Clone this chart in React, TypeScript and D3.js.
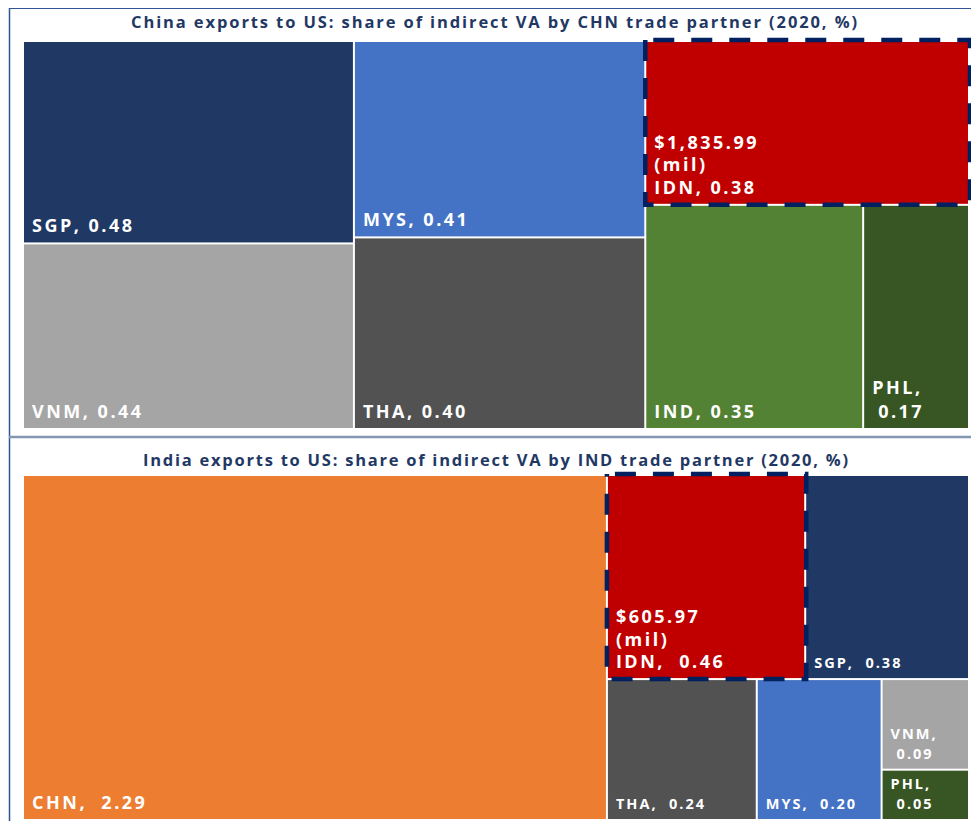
import React from 'react';
import * as d3 from 'd3';

const chnTitle = 'China exports to US: share of indirect VA by CHN trade partner (2020, %)';
const indTitle = 'India exports to US: share of indirect VA by IND trade partner (2020, %)';

const chnPartners = ['SGP', 'VNM', 'MYS', 'THA', 'IDN', 'IND', 'PHL'];
const chnShares = [0.48, 0.44, 0.41, 0.40, 0.38, 0.35, 0.17];
const indPartners = ['CHN', 'IDN', 'SGP', 'THA', 'MYS', 'VNM', 'PHL'];
const indShares = [2.29, 0.46, 0.38, 0.24, 0.20, 0.09, 0.05];

// Nested arrangement of the tiles (alternating column / row split)
const chnGroups: any[] = [['SGP', 'VNM'], ['MYS', 'THA'], ['IDN', ['IND', 'PHL']]];
const indGroups: any[] = ['CHN', [['IDN', 'SGP'], ['THA', 'MYS', ['VNM', 'PHL']]]];

const highlightCode = 'IDN';
const chnIdnValue = '$1,835.99';
const indIdnValue = '$605.97';

const colorMap: Record<string, string> = {
  SGP: '#203864',
  VNM: '#A5A5A5',
  MYS: '#4472C4',
  THA: '#525252',
  IDN: '#C00000',
  IND: '#548235',
  PHL: '#375623',
  CHN: '#ED7D31',
};

const FONT = "'Open Sans', 'DejaVu Sans', sans-serif";
const NAVY = '#1F3864';

function build(groups: any, values: Record<string, number>): any {
  if (typeof groups === 'string') return { name: groups, value: values[groups] };
  return { name: 'g', children: groups.map((g: any) => build(g, values)) };
}

interface PanelProps {
  title: string;
  titleY: number;
  titleX: number;
  titleW: number;
  groups: any[];
  partners: string[];
  shares: number[];
  box: [number, number, number, number];
  sep: string;
  bigSize: number;
  smallSize: number;
  bigNames: string[];
  money: string;
  lh: number;
}

function Panel(p: PanelProps) {
  const values: Record<string, number> = {};
  p.partners.forEach((c, i) => (values[c] = p.shares[i]));
  const root = d3
    .hierarchy(build(p.groups, values))
    .sum((d: any) => (d.children ? 0 : d.value));
  const [x0, y0, x1, y1] = p.box;
  d3.treemap().tile(d3.treemapSliceDice).size([x1 - x0, y1 - y0]).paddingInner(2)(root as any);
  const leaves = root.leaves() as any[];
  const hl = leaves.find((l) => l.data.name === highlightCode);
  return (
    <g>
      <text
        x={p.titleX}
        y={p.titleY}
        fontFamily={FONT}
        fontWeight={700}
        fontSize={16.5}
        textLength={p.titleW}
        lengthAdjust="spacing"
        fill={NAVY}
      >
        {p.title}
      </text>
      <g transform={`translate(${x0},${y0})`}>
        {leaves.map((l) => {
          const name = l.data.name;
          const val = values[name].toFixed(2);
          const w = l.x1 - l.x0;
          const big = p.bigNames.includes(name);
          const fs = big ? p.bigSize : p.smallSize;
          let lh = fs * 1.35;
          let lines: { t: string; dx: number }[];
          if (name === highlightCode) {
            lh = p.lh;
            lines = [
              { t: p.money, dx: 0 },
              { t: '(mil)', dx: 0 },
              { t: `${name},${p.sep}${val}`, dx: 0 },
            ];
          } else if (w < 120) {
            lines = [
              { t: `${name},`, dx: 0 },
              { t: val, dx: 6 },
            ];
          } else {
            lines = [{ t: `${name},${p.sep}${val}`, dx: 0 }];
          }
          const n = lines.length;
          return (
            <g key={name}>
              <rect x={l.x0} y={l.y0} width={w} height={l.y1 - l.y0} fill={colorMap[name]} />
              <text
                fill="#fff"
                fontFamily={FONT}
                fontWeight={700}
                fontSize={fs}
                letterSpacing={fs > 16 ? 2.5 : 2}
              >
                {lines.map((ln, i) => (
                  <tspan key={i} x={l.x0 + 8 + ln.dx} y={l.y1 - 10 - (n - 1 - i) * lh}>
                    {ln.t}
                  </tspan>
                ))}
              </text>
            </g>
          );
        })}
        {hl && (
          <rect
            x={hl.x0 - 1}
            y={hl.y0 - 2}
            width={hl.x1 - hl.x0 + 3}
            height={hl.y1 - hl.y0 + 3}
            fill="none"
            stroke="#002060"
            strokeWidth={4.5}
            strokeDasharray="21 17"
            strokeDashoffset={-8}
          />
        )}
      </g>
    </g>
  );
}

export default function App() {
  return (
    <svg
      width={971}
      height={821}
      style={{ position: 'absolute', left: 0, top: 0, background: '#fff' }}
    >
      <rect x={0} y={0} width={971} height={821} fill="#fff" />
      <line x1={9} y1={8.5} x2={971} y2={8.5} stroke="#2F5597" strokeWidth={1.2} />
      <line x1={9.5} y1={8} x2={9.5} y2={821} stroke="#2F5597" strokeWidth={1.5} />
      <line x1={9} y1={437} x2={971} y2={437} stroke="#8497B0" strokeWidth={2.5} />
      <Panel
        title={chnTitle}
        titleY={28}
        titleX={131}
        titleW={726}
        groups={chnGroups}
        partners={chnPartners}
        shares={chnShares}
        box={[24, 42, 968, 428]}
        sep=" "
        bigSize={18}
        smallSize={18}
        bigNames={chnPartners}
        money={chnIdnValue}
        lh={22.5}
      />
      <Panel
        title={indTitle}
        titleY={466}
        titleX={143}
        titleW={705}
        groups={indGroups}
        partners={indPartners}
        shares={indShares}
        box={[24, 476, 968, 819]}
        sep={'\u00A0\u00A0'}
        bigSize={18}
        smallSize={14.5}
        bigNames={['CHN', 'IDN']}
        money={indIdnValue}
        lh={22.5}
      />
    </svg>
  );
}
